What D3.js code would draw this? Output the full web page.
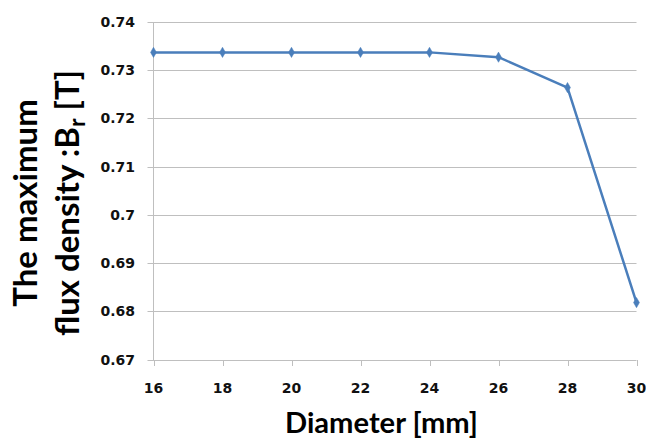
<!DOCTYPE html>
<html><head><meta charset="utf-8">
<script src="https://cdn.jsdelivr.net/npm/d3@7"></script>
<style>body{margin:0;background:#fff}svg{display:block}</style>
</head><body>
<script>
const diameters = [16, 18, 20, 22, 24, 26, 28, 30];
const fluxDensity = [0.7337, 0.7337, 0.7337, 0.7337, 0.7337, 0.7327, 0.7264, 0.6818];
const yTicks = [0.67, 0.68, 0.69, 0.70, 0.71, 0.72, 0.73, 0.74];
const yTickLabels = ["0.67", "0.68", "0.69", "0.7", "0.71", "0.72", "0.73", "0.74"];
const xTicks = [16, 18, 20, 22, 24, 26, 28, 30];

const W = 646, H = 439;
const svg = d3.select("body").append("svg").attr("width", W).attr("height", H);
const x = d3.scaleLinear().domain([16, 30]).range([153.5, 636.5]);
const y = d3.scaleLinear().domain([0.67, 0.74]).range([359.5, 22]);

const grid = "#bfbfbf";
svg.append("g").selectAll("line").data(yTicks).join("line")
  .attr("x1", 147.5).attr("x2", 636.5)
  .attr("y1", d => Math.round(y(d)) + 0.5).attr("y2", d => Math.round(y(d)) + 0.5)
  .attr("stroke", grid).attr("stroke-width", 1);
svg.append("line").attr("x1", 153.5).attr("x2", 153.5).attr("y1", y(0.74)).attr("y2", 360)
  .attr("stroke", grid);
svg.append("g").selectAll("line").data(xTicks).join("line")
  .attr("x1", d => Math.round(x(d)) + 0.5).attr("x2", d => Math.round(x(d)) + 0.5)
  .attr("y1", 360).attr("y2", 366).attr("stroke", grid);

const tickFont = "'DejaVu Sans', Verdana, sans-serif";
svg.append("g").selectAll("text").data(yTicks).join("text")
  .attr("x", 135).attr("y", d => y(d) + 5)
  .attr("text-anchor", "end").attr("font-family", tickFont).attr("font-weight", "bold")
  .attr("font-size", 14).attr("fill", "#111")
  .text((d, i) => yTickLabels[i]);
svg.append("g").selectAll("text").data(xTicks).join("text")
  .attr("x", d => x(d)).attr("y", 393)
  .attr("text-anchor", "middle").attr("font-family", tickFont).attr("font-weight", "bold")
  .attr("font-size", 14).attr("fill", "#111")
  .text(d => d);

const line = d3.line().x((d, i) => x(diameters[i])).y(d => y(d));
svg.append("path").datum(fluxDensity).attr("d", line)
  .attr("fill", "none").attr("stroke", "#4a7ebb").attr("stroke-width", 2.5)
  .attr("stroke-linejoin", "round");
svg.append("g").selectAll("path").data(fluxDensity).join("path")
  .attr("d", d3.symbol().type(d3.symbolDiamond).size(30))
  .attr("transform", (d, i) => `translate(${x(diameters[i])},${y(d)})`)
  .attr("fill", "#4a7ebb").attr("stroke", "#4a7ebb").attr("stroke-width", 0.5);

const titleFont = "Lato, 'Open Sans', sans-serif";
svg.append("text").attr("x", 381.5).attr("y", 433).attr("text-anchor", "middle")
  .attr("font-family", titleFont).attr("font-weight", "bold").attr("font-size", 28)
  .attr("textLength", 193).attr("lengthAdjust", "spacingAndGlyphs")
  .attr("fill", "#000").text("Diameter [mm]");

const yt = svg.append("text").attr("transform", "translate(0,203) rotate(-90)")
  .attr("text-anchor", "middle").attr("font-family", titleFont).attr("font-weight", "bold")
  .attr("font-size", 33).attr("fill", "#000");
yt.append("tspan").attr("x", 0).attr("y", 37).text("The maximum");
yt.append("tspan").attr("x", 0).attr("y", 79).text("flux density :B");
yt.append("tspan").attr("dy", 6).attr("font-size", 23).text("r");
yt.append("tspan").attr("dy", -6).text(" [T]");
</script>
</body></html>
